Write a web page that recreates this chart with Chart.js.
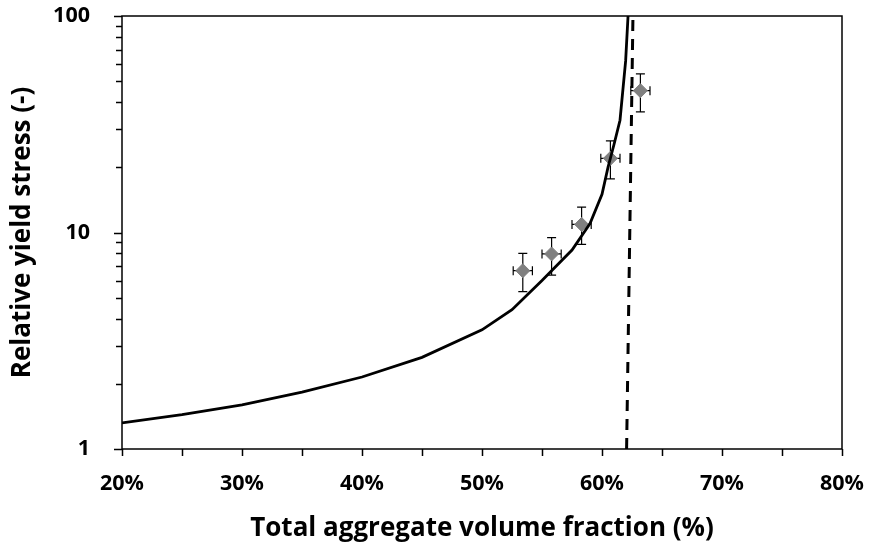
<!DOCTYPE html>
<html>
<head>
<meta charset="utf-8">
<script src="https://cdn.jsdelivr.net/npm/chart.js@4/dist/chart.umd.min.js"></script>
<style>
  html, body { margin: 0; padding: 0; background: #fff; }
  #wrap { width: 873px; height: 552px; position: relative; }
</style>
</head>
<body>
<div id="wrap"><canvas id="chart"></canvas></div>
<script>
// Model curve
const curveX = [0.20, 0.25, 0.30, 0.35, 0.40, 0.45, 0.50, 0.525, 0.55, 0.575, 0.59, 0.60, 0.605, 0.61, 0.615, 0.6197, 0.6217];
const curveY = [1.32, 1.44, 1.60, 1.83, 2.15, 2.65, 3.55, 4.4, 6.0, 8.3, 11.0, 15.0, 20, 25.5, 33, 62, 100];

// Maximum packing line (dashed)
const limitX = [0.6205, 0.6258];
const limitY = [1, 100];

// Measured points with error bars
const measX = [0.534, 0.558, 0.583, 0.607, 0.632];
const measY = [6.66, 7.96, 10.9, 22.0, 45.2];
const measYLow = [5.33, 6.36, 8.82, 17.7, 36.1];
const measYHigh = [8.01, 9.46, 13.1, 26.5, 54.0];
const measXErr = [0.008, 0.008, 0.008, 0.008, 0.008];

// Axis ticks
const xTickValues = [0.2, 0.3, 0.4, 0.5, 0.6, 0.7, 0.8];
const xMinorTicks = [0.2, 0.25, 0.3, 0.35, 0.4, 0.45, 0.5, 0.55, 0.6, 0.65, 0.7, 0.75, 0.8];
const yTickValues = [1, 10, 100];
const yMinorTicks = [2, 3, 4, 5, 6, 7, 8, 9, 20, 30, 40, 50, 60, 70, 80, 90];

const FONT = '"Open Sans", Lato, sans-serif';

// frame, tick marks and error bars
const framePlugin = {
  id: 'frame',
  beforeDatasetsDraw(chart) {
    const ctx = chart.ctx;
    const xs = chart.scales.x, ys = chart.scales.y;
    ctx.save();
    ctx.strokeStyle = '#000';
    ctx.lineWidth = 1.2;
    for (let i = 0; i < measX.length; i++) {
      const px = xs.getPixelForValue(measX[i]);
      const py = ys.getPixelForValue(measY[i]);
      const top = ys.getPixelForValue(measYHigh[i]);
      const bot = ys.getPixelForValue(measYLow[i]);
      const left = xs.getPixelForValue(measX[i] - measXErr[i]);
      const right = xs.getPixelForValue(measX[i] + measXErr[i]);
      ctx.beginPath();
      ctx.moveTo(px, top); ctx.lineTo(px, bot);
      ctx.moveTo(px - 4.5, top); ctx.lineTo(px + 4.5, top);
      ctx.moveTo(px - 4.5, bot); ctx.lineTo(px + 4.5, bot);
      ctx.moveTo(left, py); ctx.lineTo(right, py);
      ctx.moveTo(left, py - 4.5); ctx.lineTo(left, py + 4.5);
      ctx.moveTo(right, py - 4.5); ctx.lineTo(right, py + 4.5);
      ctx.stroke();
    }
    ctx.restore();
  },
  afterDatasetsDraw(chart) {
    const ctx = chart.ctx;
    const a = chart.chartArea;
    const xs = chart.scales.x, ys = chart.scales.y;
    ctx.save();
    ctx.strokeStyle = '#000';
    ctx.lineWidth = 1.5;
    ctx.strokeRect(a.left, a.top, a.right - a.left, a.bottom - a.top);
    ctx.beginPath();
    xMinorTicks.forEach(v => {
      const px = Math.round(xs.getPixelForValue(v)) + 0.5;
      ctx.moveTo(px, a.bottom); ctx.lineTo(px, a.bottom + 7);
    });
    yTickValues.forEach(v => {
      const py = Math.round(ys.getPixelForValue(v)) + 0.5;
      ctx.moveTo(a.left, py); ctx.lineTo(a.left - 8, py);
    });
    yMinorTicks.forEach(v => {
      const py = Math.round(ys.getPixelForValue(v)) + 0.5;
      ctx.moveTo(a.left, py); ctx.lineTo(a.left - 6, py);
    });
    ctx.stroke();
    ctx.restore();
  }
};

new Chart(document.getElementById('chart'), {
  type: 'scatter',
  data: {
    datasets: [
      {
        type: 'line',
        data: curveX.map((x, i) => ({ x: x, y: curveY[i] })),
        borderColor: '#000',
        borderWidth: 2.8,
        pointRadius: 0,
        tension: 0
      },
      {
        type: 'line',
        data: limitX.map((x, i) => ({ x: x, y: limitY[i] })),
        borderColor: '#000',
        borderWidth: 3,
        borderDash: [11, 8],
        pointRadius: 0
      },
      {
        data: measX.map((x, i) => ({ x: x, y: measY[i] })),
        pointStyle: 'rectRot',
        pointRadius: 7,
        backgroundColor: '#808080',
        borderColor: '#808080',
        borderWidth: 1
      }
    ]
  },
  options: {
    responsive: true,
    maintainAspectRatio: false,
    animation: false,
    layout: { padding: { top: 16, right: 31, left: 0, bottom: 0 } },
    plugins: {
      legend: { display: false },
      tooltip: { enabled: false }
    },
    scales: {
      x: {
        type: 'linear',
        min: 0.2,
        max: 0.8,
        afterBuildTicks: s => { s.ticks = xTickValues.map(v => ({ value: v })); },
        afterFit: s => { s.height = 103; s.paddingLeft = 0; s.paddingRight = 0; },
        grid: { display: false, drawTicks: false },
        border: { display: false },
        ticks: {
          padding: 22,
          color: '#000',
          font: { family: FONT, size: 21.5, weight: 'bold' },
          callback: v => Math.round(v * 100) + '%'
        },
        title: {
          display: true,
          text: 'Total aggregate volume fraction (%)',
          color: '#000',
          font: { family: FONT, size: 26, weight: 'bold' },
          padding: { top: 0, bottom: 8 }
        }
      },
      y: {
        type: 'logarithmic',
        min: 1,
        max: 100,
        afterBuildTicks: s => { s.ticks = yTickValues.map(v => ({ value: v })); },
        afterFit: s => { s.width = 122; s.paddingTop = 0; s.paddingBottom = 0; },
        grid: { display: false, drawTicks: false },
        border: { display: false },
        ticks: {
          padding: 32,
          color: '#000',
          font: { family: FONT, size: 21.5, weight: 'bold' },
          callback: v => String(v)
        },
        title: {
          display: true,
          text: 'Relative yield stress (-)',
          color: '#000',
          font: { family: FONT, size: 26, weight: 'bold' },
          padding: { top: 7, bottom: 0 }
        }
      }
    }
  },
  plugins: [framePlugin]
});
</script>
</body>
</html>
